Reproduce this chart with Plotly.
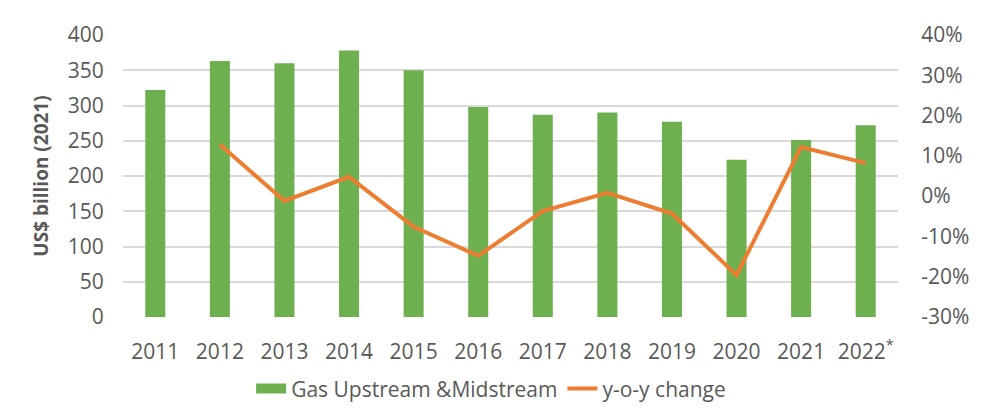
import plotly.graph_objects as go

years = ["2011", "2012", "2013", "2014", "2015", "2016", "2017", "2018", "2019", "2020", "2021", "2022<sup>*</sup>"]
investment = [322, 363, 360, 378, 350, 298, 287, 290, 277, 223, 251, 272]
yoy_change = [None, 12.8, -1.2, 4.8, -7.6, -14.8, -3.7, 0.8, -4.3, -19.6, 12.2, 8.2]

left_ticks = [0, 50, 100, 150, 200, 250, 300, 350, 400]
right_ticks = [-30, -20, -10, 0, 10, 20, 30, 40]
right_labels = ["-30%", "-20%", "-10%", "0%", "10%", "20%", "30%", "40%"]

FONT = "Open Sans"
GREY = "#595959"
GREEN = "#6EAF50"
ORANGE = "#ED7D31"

fig = go.Figure()
fig.add_trace(go.Bar(
    x=years, y=investment, name="Gas Upstream &Midstream",
    marker=dict(color=GREEN, line=dict(width=0)), showlegend=False,
))
# legend swatch for the bars (wide rectangle as in the reference)
fig.add_trace(go.Scatter(
    x=[None], y=[None], name="Gas Upstream &Midstream", mode="lines",
    line=dict(color=GREEN, width=15), showlegend=True,
))
fig.add_trace(go.Scatter(
    x=years, y=yoy_change, name="y-o-y change", yaxis="y2",
    mode="lines", line=dict(color=ORANGE, width=4),
))

fig.update_layout(
    width=994, height=413,
    margin=dict(l=115, r=104, t=22, b=89),
    paper_bgcolor="white", plot_bgcolor="white",
    font=dict(family=FONT, size=21, color=GREY),
    bargap=0.69,
    showlegend=True,
    legend=dict(orientation="h", x=0.475, xanchor="center", y=-0.255, yanchor="middle",
                font=dict(size=21, color=GREY), itemwidth=30, tracegroupgap=0,
                traceorder="normal"),
    xaxis=dict(showgrid=False, showline=False, ticks="outside", ticklen=16,
               tickcolor="rgba(0,0,0,0)", tickfont=dict(size=21, color=GREY)),
    yaxis=dict(range=[0, 400], tickvals=left_ticks, showgrid=True,
               gridcolor="#D9D9D9", gridwidth=1.5, zeroline=False,
               ticks="outside", ticklen=14, tickcolor="rgba(0,0,0,0)",
               title=dict(text="<b>US$ billion (2021)</b>", font=dict(size=19, color=GREY), standoff=14)),
    yaxis2=dict(range=[-30, 40], tickvals=right_ticks, ticktext=right_labels, overlaying="y",
                side="right", showgrid=False, zeroline=False,
                ticks="outside", ticklen=18, tickcolor="rgba(0,0,0,0)"),
)

fig.write_html("out.html")
